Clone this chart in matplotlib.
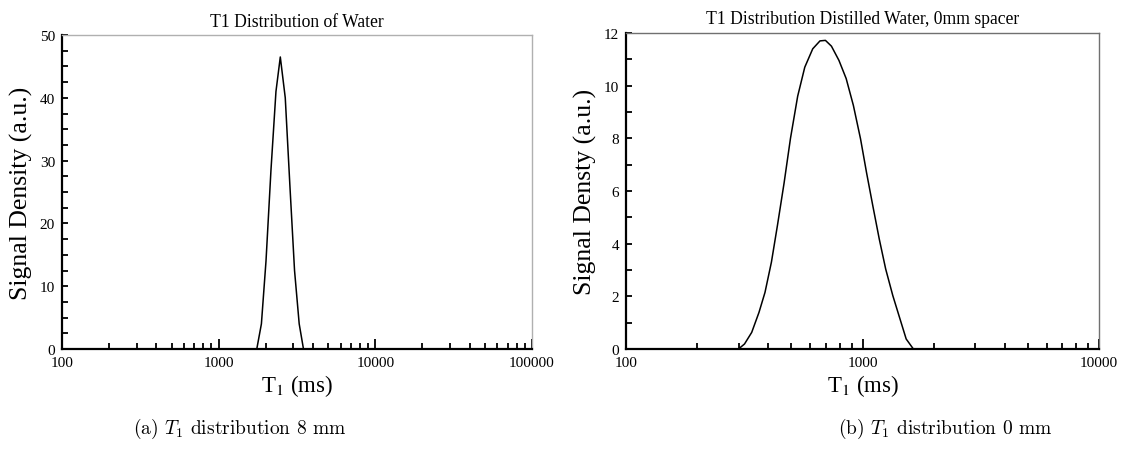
import numpy as np
import matplotlib
matplotlib.use("Agg")
import matplotlib.pyplot as plt
from matplotlib.ticker import LogLocator, NullFormatter, MultipleLocator

# T1 distribution, 8 mm spacer
t1_a = [100, 1751, 1874, 2005, 2157, 2321, 2474, 2661, 2849, 3050, 3266, 3478, 100000]
sig_a = [0, 0, 4.0, 14.0, 28.5, 41.0, 46.5, 40.0, 26.0, 12.5, 4.0, 0, 0]

# T1 distribution, 0 mm spacer
t1_b = [100, 299, 317, 340, 365, 387, 412, 437, 466, 496, 532, 570, 616, 661, 697,
        739, 795, 853, 915, 981, 1040, 1105, 1177, 1253, 1343, 1426, 1530, 1641, 10000]
sig_b = [0, 0, 0.19, 0.63, 1.39, 2.15, 3.3, 4.7, 6.3, 8.0, 9.6, 10.7, 11.4, 11.7, 11.72,
         11.5, 10.96, 10.27, 9.25, 7.98, 6.7, 5.45, 4.18, 3.04, 2.03, 1.27, 0.38, 0, 0]

xticks_a = [100, 1000, 10000, 100000]
xticks_b = [100, 1000, 10000]
titles = ["T1 Distribution of Water", "T1 Distribution Distilled Water, 0mm spacer"]
ylabels = ["Signal Density (a.u.)", "Signal Densty (a.u.)"]
captions = [r"(a) $T_1$ distribution 8 mm", r"(b) $T_1$ distribution 0 mm"]

SERIF = ["Liberation Serif", "DejaVu Serif"]

fig = plt.figure(figsize=(11.23, 4.52), dpi=100)
W, H = 1123, 452


def make_axes(px_left, px_top, px_right, px_bottom):
    return fig.add_axes([px_left / W, 1 - px_bottom / H,
                         (px_right - px_left) / W, (px_bottom - px_top) / H])


def style(ax, xt, ylim, ymaj, ymin, title, ylabel, edge_gray, title_pad):
    ax.set_xscale("log")
    ax.set_xlim(xt[0], xt[-1])
    ax.set_ylim(*ylim)
    ax.set_xticks(xt)
    ax.set_xticklabels([str(v) for v in xt])
    ax.xaxis.set_minor_locator(LogLocator(base=10, subs=np.arange(2, 10)))
    ax.xaxis.set_minor_formatter(NullFormatter())
    ax.yaxis.set_major_locator(MultipleLocator(ymaj))
    ax.yaxis.set_minor_locator(MultipleLocator(ymin))
    ax.tick_params(which="both", direction="in", top=False, right=False,
                   labelsize=11, width=1.3)
    ax.tick_params(axis="x", which="major", length=7, pad=5)
    ax.tick_params(axis="x", which="minor", length=4)
    ax.tick_params(axis="y", which="both", length=4, pad=5)
    for lab in ax.get_xticklabels() + ax.get_yticklabels():
        lab.set_fontfamily(SERIF)
    for s in ("left", "bottom"):
        ax.spines[s].set_linewidth(1.6)
        ax.spines[s].set_color("black")
    for s in ("top", "right"):
        ax.spines[s].set_linewidth(1.0)
        ax.spines[s].set_color(edge_gray)
    ax.set_title(title, fontsize=12.7, family=SERIF, pad=title_pad)
    ax.set_ylabel(ylabel, fontsize=18.5, family=SERIF)
    ax.yaxis.set_label_coords(-0.061, 0.5)
    ax.set_xlabel(r"T$_1$ (ms)", fontsize=16.5, family=SERIF, math_fontfamily="stix")
    ax.xaxis.set_label_coords(0.5, -0.072)


ax1 = make_axes(62, 36, 532, 350)
ax1.plot(t1_a, sig_a, color="black", lw=1.1)
style(ax1, xticks_a, (0, 50), 10, 2.5, titles[0], ylabels[0], "#b0b0b0", 6.5)

ax2 = make_axes(626, 34, 1099, 350)
ax2.plot(t1_b, sig_b, color="black", lw=1.1)
style(ax2, xticks_b, (0, 12), 2, 1, titles[1], ylabels[1], "#707070", 7.5)

fig.text(240 / W, 1 - 429 / H, captions[0], fontsize=14, family="cmr10",
         math_fontfamily="cm", ha="center", va="center")
fig.text(945 / W, 1 - 429 / H, captions[1], fontsize=14, family="cmr10",
         math_fontfamily="cm", ha="center", va="center")

fig.savefig("out.png", dpi=100)
